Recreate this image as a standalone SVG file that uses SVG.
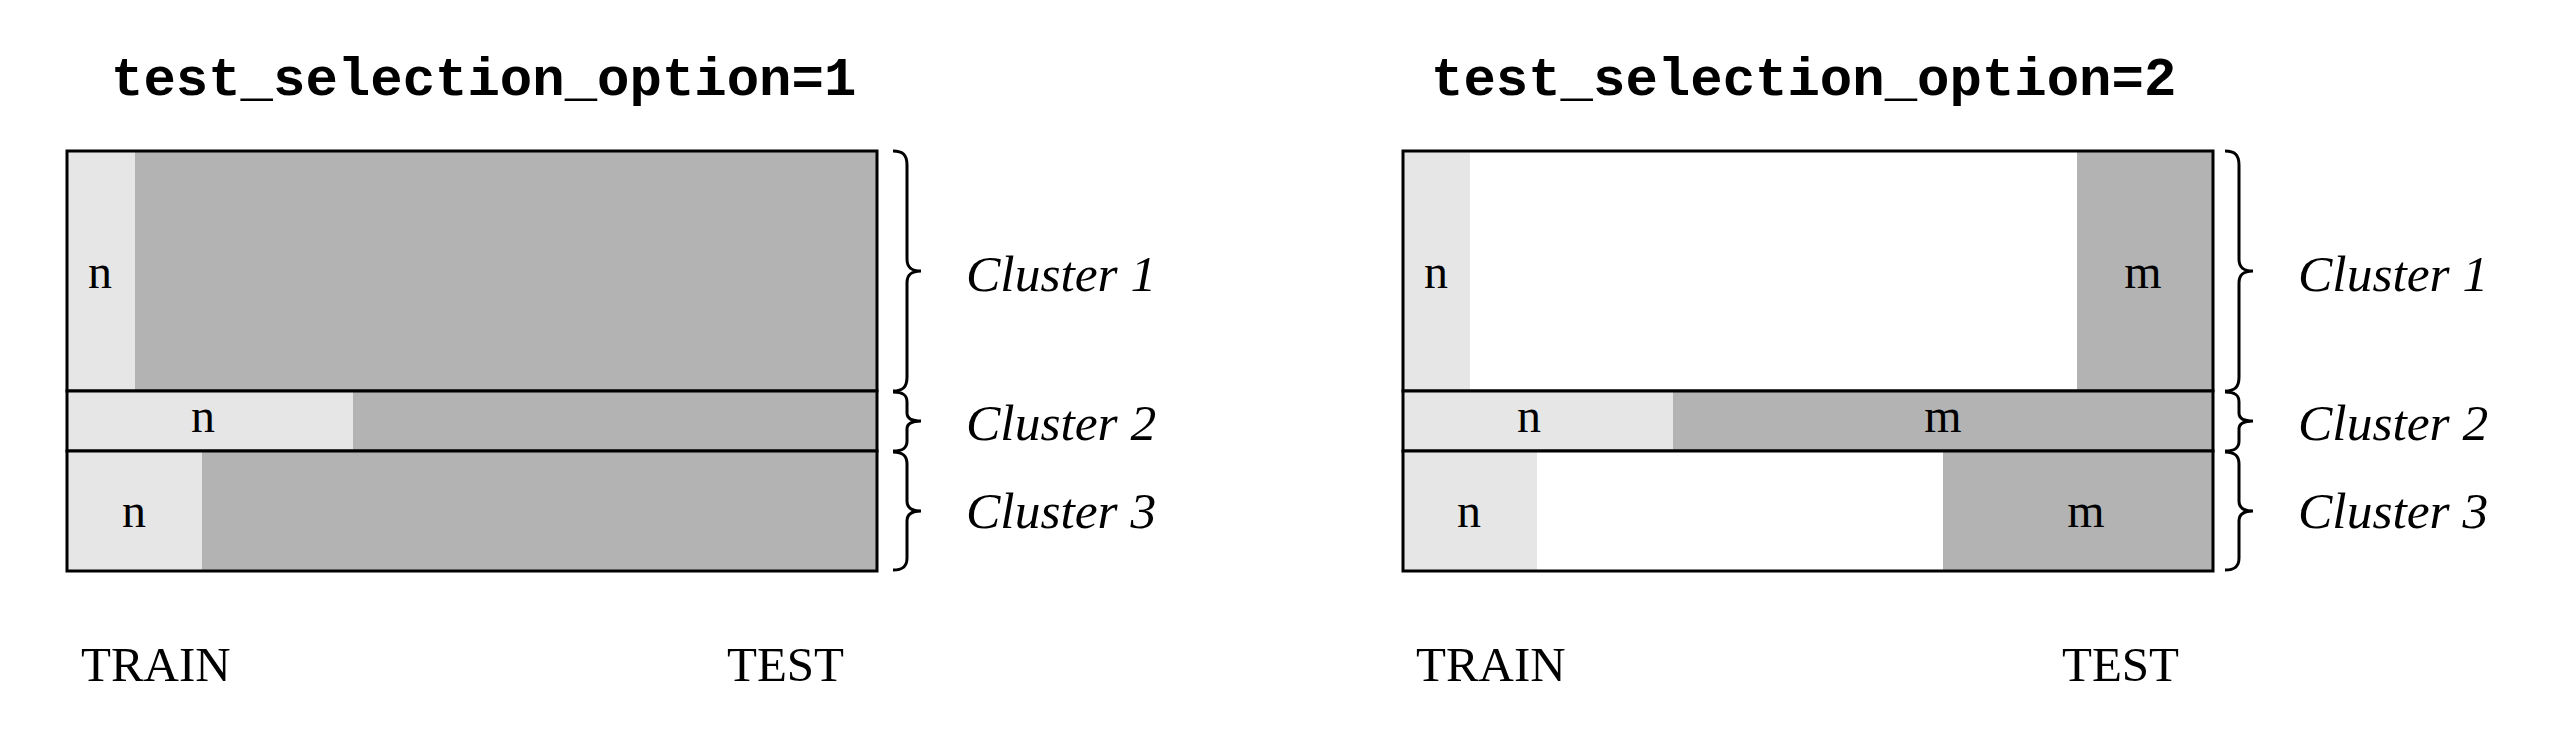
<svg xmlns="http://www.w3.org/2000/svg" width="2550" height="753" viewBox="0 0 2550 753">
<style>
.title{font-family:"Liberation Mono",monospace;font-weight:bold;font-size:54px;fill:#000}
.lab{font-family:"Liberation Serif",serif;font-size:48px;fill:#000;text-anchor:middle}
.axis{font-family:"Liberation Serif",serif;font-size:49px;fill:#000}
.cl{font-family:"Liberation Serif",serif;font-style:italic;font-size:51.5px;fill:#000}
.lt{fill:#e6e6e6}
.dk{fill:#b3b3b3}
.box{fill:none;stroke:#000;stroke-width:3}
.brace{fill:none;stroke:#000;stroke-width:3;stroke-linecap:butt}
</style>
<rect width="2550" height="753" fill="#fff"/>
<g id="panel1">
<text class="title" x="111" y="95">test_selection_option=1</text>
<g id="p1-cluster1">
<rect class="dk" x="67" y="151" width="810" height="240"/>
<rect class="lt" x="67" y="151" width="68" height="240"/>
<rect class="box" x="67" y="151" width="810" height="240"/>
<text class="lab" x="100" y="288">n</text>
</g>
<g id="p1-cluster2">
<rect class="dk" x="67" y="391" width="810" height="60"/>
<rect class="lt" x="67" y="391" width="286" height="60"/>
<rect class="box" x="67" y="391" width="810" height="60"/>
<text class="lab" x="203" y="432">n</text>
</g>
<g id="p1-cluster3">
<rect class="dk" x="67" y="451" width="810" height="120"/>
<rect class="lt" x="67" y="451" width="135" height="120"/>
<rect class="box" x="67" y="451" width="810" height="120"/>
<text class="lab" x="134" y="527">n</text>
</g>
<g id="p1-braces">
<path class="brace" d="M893 151 C903 151 907 155 907 165 L907 259 C907 267 911 271 921 271 C911 271 907 275 907 283 L907 377 C907 387 903 391 893 391"/>
<path class="brace" d="M893 392 C903 392 907 395 907 402 L907 413 C907 418 911 421 921 421 C911 421 907 424 907 429 L907 441 C907 448 903 451 893 451"/>
<path class="brace" d="M893 452 C903 452 907 456 907 464 L907 501 C907 507 911 511 921 511 C911 511 907 515 907 521 L907 558 C907 566 903 570 893 570"/>
</g>
<text class="cl" x="966" y="291">Cluster 1</text>
<text class="cl" x="966" y="440">Cluster 2</text>
<text class="cl" x="966" y="528">Cluster 3</text>
<text class="axis" x="81" y="681">TRAIN</text>
<text class="axis" x="727" y="681">TEST</text>
</g>
<g id="panel2">
<text class="title" x="1431" y="95">test_selection_option=2</text>
<g id="p2-cluster1">
<rect fill="#fff" x="1403" y="151" width="810" height="240"/>
<rect class="lt" x="1403" y="151" width="67" height="240"/>
<rect class="dk" x="2077" y="151" width="136" height="240"/>
<rect class="box" x="1403" y="151" width="810" height="240"/>
<text class="lab" x="1436" y="288">n</text>
<text class="lab" x="2143" y="288">m</text>
</g>
<g id="p2-cluster2">
<rect class="dk" x="1403" y="391" width="810" height="60"/>
<rect class="lt" x="1403" y="391" width="270" height="60"/>
<rect class="box" x="1403" y="391" width="810" height="60"/>
<text class="lab" x="1529" y="432">n</text>
<text class="lab" x="1943" y="432">m</text>
</g>
<g id="p2-cluster3">
<rect fill="#fff" x="1403" y="451" width="810" height="120"/>
<rect class="lt" x="1403" y="451" width="134" height="120"/>
<rect class="dk" x="1943" y="451" width="270" height="120"/>
<rect class="box" x="1403" y="451" width="810" height="120"/>
<text class="lab" x="1469" y="527">n</text>
<text class="lab" x="2086" y="527">m</text>
</g>
<g id="p2-braces">
<path class="brace" d="M2225 151 C2235 151 2239 155 2239 165 L2239 259 C2239 267 2243 271 2253 271 C2243 271 2239 275 2239 283 L2239 377 C2239 387 2235 391 2225 391"/>
<path class="brace" d="M2225 392 C2235 392 2239 395 2239 402 L2239 413 C2239 418 2243 421 2253 421 C2243 421 2239 424 2239 429 L2239 441 C2239 448 2235 451 2225 451"/>
<path class="brace" d="M2225 452 C2235 452 2239 456 2239 464 L2239 501 C2239 507 2243 511 2253 511 C2243 511 2239 515 2239 521 L2239 558 C2239 566 2235 570 2225 570"/>
</g>
<text class="cl" x="2298" y="291">Cluster 1</text>
<text class="cl" x="2298" y="440">Cluster 2</text>
<text class="cl" x="2298" y="528">Cluster 3</text>
<text class="axis" x="1416" y="681">TRAIN</text>
<text class="axis" x="2062" y="681">TEST</text>
</g>
</svg>
